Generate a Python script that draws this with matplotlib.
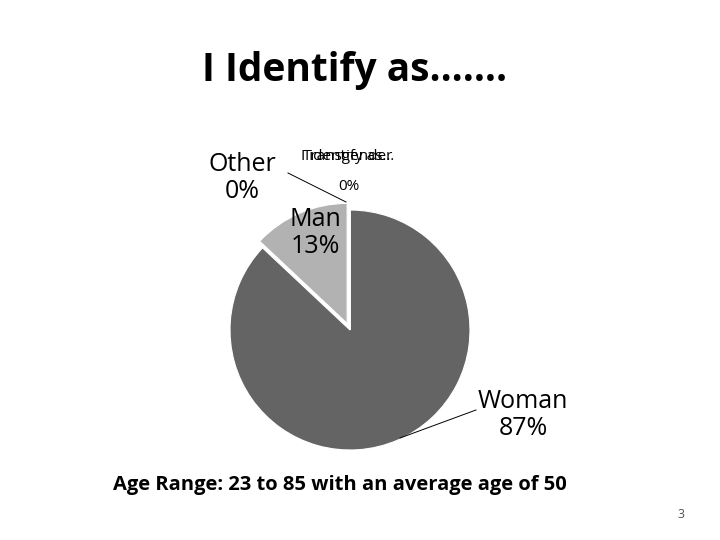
import matplotlib
matplotlib.use("Agg")
import matplotlib.pyplot as plt

title = "I Identify as……."
subtitle = "Age Range: 23 to 85 with an average age of 50"
page_number = "3"
categories = ["Woman", "Man", "Other", "Transgender", "I identify as…"]
values = [87, 13, 0, 0, 0]
colors = ["#646464", "#b2b2b2", "#8a8a8a", "#d0d0d0", "#909090"]
explode = [0, 0.06, 0, 0, 0]

plt.rcParams['font.family'] = ['Open Sans', 'DejaVu Sans']

fig = plt.figure(figsize=(7.2, 5.4), dpi=100)
fig.patch.set_facecolor("white")

# pie axes: center at (350,330) px, radius 120 px
W, H = 720, 540
cx, cy, r = 350, 330, 120
ax = fig.add_axes([(cx - r) / W, (H - cy - r) / H, 2 * r / W, 2 * r / H])
wedges, _ = ax.pie(values, colors=colors, startangle=90, counterclock=False,
                   explode=explode, radius=1.0,
                   wedgeprops=dict(edgecolor="white", linewidth=0.8))
for w in wedges:
    w.set_clip_on(False)
ax.set_xlim(-1, 1)
ax.set_ylim(-1, 1)
ax.set_aspect("equal")
ax.axis("off")

total = sum(values)
pct = [f"{round(100 * v / total)}%" for v in values]

fig.text(355 / W, 1 - 71 / H, title, ha="center", va="center",
         fontsize=28, fontweight="bold")

# data labels
lab = dict(ha="center", va="center", fontsize=18, linespacing=1.1)
fig.text(523 / W, 1 - 415 / H, f"{categories[0]}\n{pct[0]}", **lab)
fig.text(315 / W, 1 - 233 / H, f"{categories[1]}\n{pct[1]}", **lab)
fig.text(242 / W, 1 - 178 / H, f"{categories[2]}\n{pct[2]}", **lab)
fig.text(348 / W, 1 - 156 / H, categories[3], ha="center", va="center", fontsize=11)
fig.text(348 / W, 1 - 156 / H, categories[4], ha="center", va="center", fontsize=11)
fig.text(349 / W, 1 - 186 / H, pct[3], ha="center", va="center", fontsize=11)

# leader lines
def fl(x1, y1, x2, y2):
    fig.add_artist(plt.Line2D([x1 / W, x2 / W], [1 - y1 / H, 1 - y2 / H],
                              color="black", linewidth=0.7))
fl(400, 438, 476, 410)
fl(288, 173, 346, 202)

fig.text(340 / W, 1 - 485 / H, subtitle, ha="center", va="center",
         fontsize=14.5, fontweight="bold")
fig.text(681 / W, 1 - 515 / H, page_number, ha="center", va="center",
         fontsize=9, color="#555555")

fig.savefig("out.png", dpi=100)
